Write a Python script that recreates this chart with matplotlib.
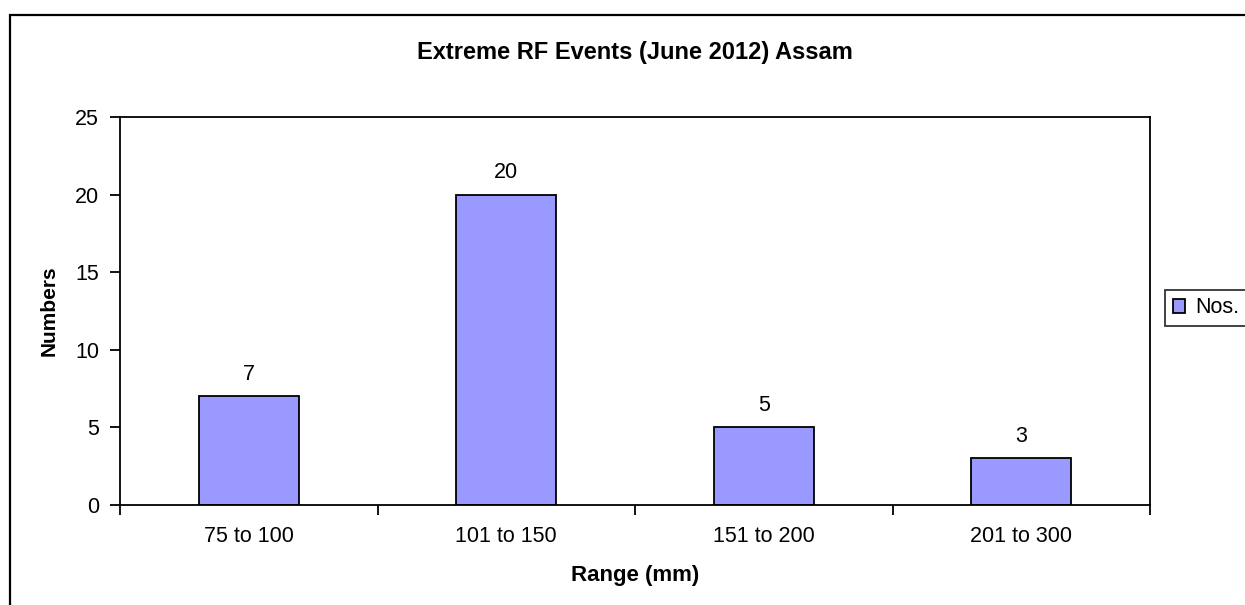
import matplotlib
matplotlib.use("Agg")
import matplotlib.pyplot as plt
from matplotlib.patches import Rectangle, Patch
import numpy as np

categories = ["75 to 100", "101 to 150", "151 to 200", "201 to 300"]
values = [7, 20, 5, 3]
yticks = [0, 5, 10, 15, 20, 25]
title = "Extreme RF Events (June 2012) Assam"
xlabel = "Range (mm)"
ylabel = "Numbers"
legend_label = "Nos."

plt.rcParams['font.family'] = ['Liberation Sans', 'DejaVu Sans']

W, H = 1245, 605
fig = plt.figure(figsize=(W / 100, H / 100), dpi=100)
fig.patch.set_facecolor('white')

# outer chart frame (extends beyond the image on right and bottom)
fig.patches.append(Rectangle((10 / W, -0.1), 1.2, 1 - 15 / H + 0.1,
                             transform=fig.transFigure, fill=False,
                             edgecolor='black', linewidth=1.6))

left, right, top, bottom = 120, 1150, 117, 505
ax = fig.add_axes([left / W, 1 - bottom / H, (right - left) / W, (bottom - top) / H])

FS = 15.5
LW = 1.3
x = np.arange(len(categories))
ax.bar(x, values, width=0.39, color='#9999FF', edgecolor='black', linewidth=LW)
for xi, v in zip(x, values):
    ax.text(xi, v + 0.75, str(v), ha='center', va='bottom', fontsize=FS)

ax.set_xlim(-0.5, len(categories) - 0.5)
ax.set_ylim(0, 25)
ax.set_yticks(yticks)
ax.set_xticks(np.arange(len(categories) + 1) - 0.5)
ax.set_xticklabels([])
ax.set_xticks(x, minor=True)
ax.set_xticklabels(categories, minor=True, fontsize=FS)
ax.tick_params(axis='x', which='minor', length=0, pad=15)
ax.tick_params(axis='x', which='major', direction='out', length=7, width=LW)
ax.tick_params(axis='y', direction='out', length=7, width=LW, labelsize=FS, pad=8)
for s in ax.spines.values():
    s.set_linewidth(LW)
    s.set_color('black')

ax.set_title(title, fontsize=17, fontweight='bold', pad=0,
             y=1 + (117 - 52) / (bottom - top), va='center')
ax.set_xlabel(xlabel, fontsize=16, fontweight='bold', labelpad=13)
ax.set_ylabel(ylabel, fontsize=15, fontweight='bold', labelpad=12)

handle = Patch(facecolor='#9999FF', edgecolor='black', linewidth=LW)
leg = fig.legend([handle], [legend_label], loc='center left',
                 bbox_to_anchor=(1165 / W, 1 - 308 / H), fontsize=FS,
                 frameon=True, fancybox=False, edgecolor='black',
                 handlelength=0.6, handleheight=0.6, handletextpad=0.45,
                 borderpad=0.35, borderaxespad=0)
leg.get_frame().set_linewidth(LW)

fig.savefig("out.png", dpi=100)
